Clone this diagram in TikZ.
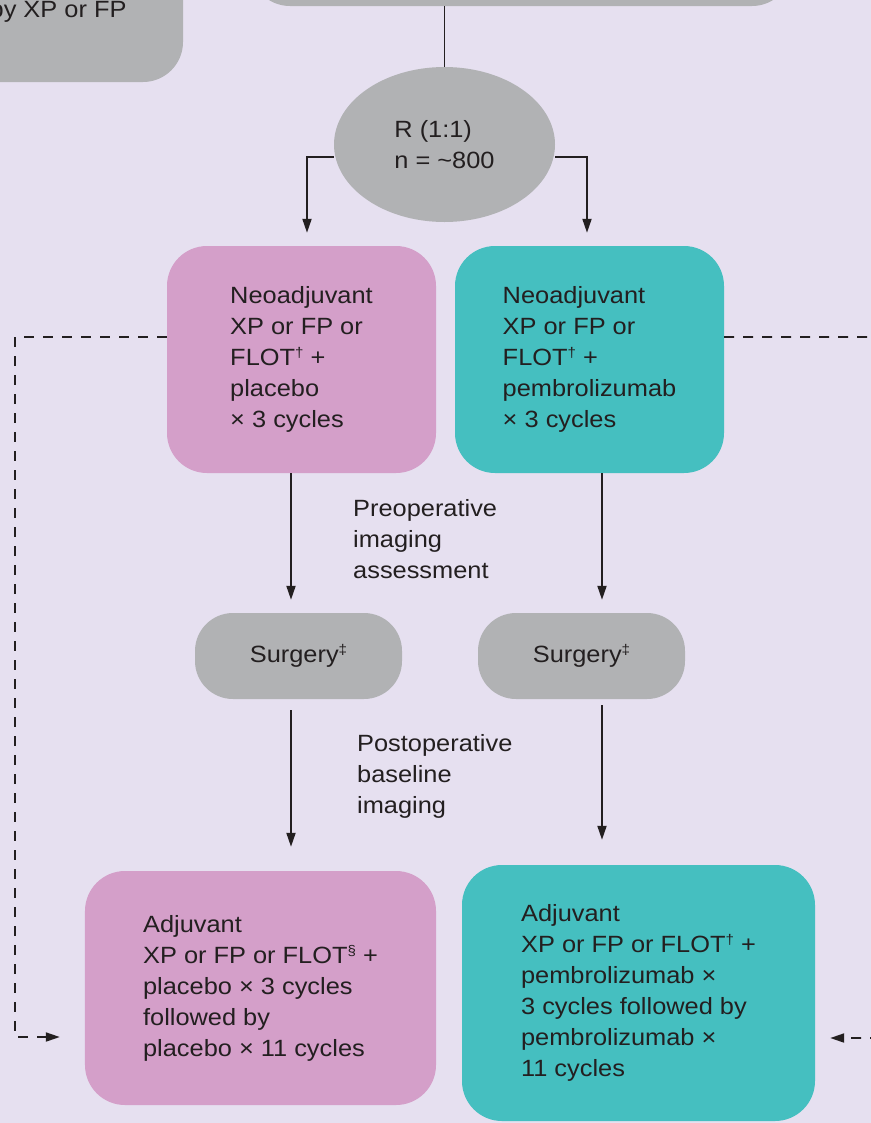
\documentclass[tikz,border=0pt]{standalone}
\usepackage{fontspec}
\setmainfont{Liberation Sans}[FakeStretch=1.08]
\usetikzlibrary{arrows.meta,positioning,calc,shapes.geometric}

\definecolor{bgcol}{HTML}{E6E0F0}
\definecolor{graybox}{HTML}{B1B2B4}
\definecolor{plabox}{HTML}{D49FC9}
\definecolor{pembox}{HTML}{45BFC0}
\definecolor{inkcol}{HTML}{231F20}

\newcommand{\fnmark}[1]{\raisebox{0.34em}{\fontsize{14bp}{14bp}\selectfont #1}}

\begin{document}
\begin{tikzpicture}[
    x=1bp, y=-1bp,
    every node/.style={align=left, text=inkcol, font=\fontsize{23.5bp}{31bp}\selectfont},
    armbox/.style={
        rectangle, rounded corners=40bp, inner sep=0pt
    },
    placebo/.style={armbox, fill=plabox},
    pembro/.style={armbox, fill=pembox},
    surg/.style={
        rectangle, rounded corners=38bp, fill=graybox,
        minimum width=207bp, minimum height=86bp
    },
    arrow/.style={-{Triangle[length=14bp,width=9bp]}, line width=1.9bp, draw=inkcol},
    dasharrow/.style={arrow, dash pattern=on 10bp off 9bp},
    note/.style={anchor=north west, inner sep=0pt}
]
\useasboundingbox (0,0) rectangle (871,1123);
\fill[bgcol] (0,0) rectangle (871,1123);
\clip (0,0) rectangle (871,1123);

% boxes above, cut off by the frame
\node[armbox, fill=graybox, minimum width=283bp, minimum height=182bp] (prior) at (41.5,-9) {};
\node[anchor=base east] (priortext) at (130,17) {by XP or FP};
\node[armbox, fill=graybox, minimum width=542bp, minimum height=120bp] (screen) at (521,-54) {};

% randomisation
\node[ellipse, fill=graybox, minimum width=221bp, minimum height=155bp, inner sep=0pt]
    (rand) at (444.5,144.5) {R (1:1)\\n = \textasciitilde800};

% neoadjuvant arms
\node[placebo, minimum width=269bp, minimum height=227bp] (neoplac) at (301.5,359.5)
    {Neoadjuvant\\XP or FP or\\FLOT\fnmark{†} +\\placebo\\× 3 cycles};
\node[pembro, minimum width=269bp, minimum height=227bp] (neopem) at (589.5,359.5)
    {Neoadjuvant\\XP or FP or\\FLOT\fnmark{†} +\\pembrolizumab\\× 3 cycles};

% surgery
\node[surg] (surgplac) at (298.5,656) {Surgery\fnmark{‡}};
\node[surg] (surgpem) at (581.5,656) {Surgery\fnmark{‡}};

% adjuvant arms
\node[placebo, minimum width=351bp, minimum height=234bp] (adjplac) at (260.5,988)
    {Adjuvant\\XP or FP or FLOT\fnmark{§} +\\placebo × 3 cycles\\followed by\\placebo × 11 cycles};
\node[pembro, minimum width=353bp, minimum height=256bp] (adjpem) at (638.5,993)
    {Adjuvant\\XP or FP or FLOT\fnmark{†} +\\pembrolizumab ×\\3 cycles followed by\\pembrolizumab ×\\11 cycles};

% step labels
\node[note] (preop) at (353,499) {Preoperative\\imaging\\assessment};
\node[note] (postop) at (357,734) {Postoperative\\baseline\\imaging};

% connectors
\draw[line width=1.9bp, draw=inkcol] (screen.south -| rand.north) -- (rand.north);
\draw[arrow, shorten >=13bp] ([yshift=-12.5bp]rand.west) -| ([xshift=5.5bp]neoplac.north);
\draw[arrow, shorten >=13bp] ([yshift=-12.5bp]rand.east) -| ([xshift=-2.5bp]neopem.north);
\draw[arrow, shorten >=13bp] ([xshift=-10.5bp]neoplac.south) -- ([xshift=-7.5bp]surgplac.north);
\draw[arrow, shorten >=13bp] ([xshift=12.5bp]neopem.south) -- ([xshift=20.5bp]surgpem.north);
\draw[arrow, shorten <=11bp, shorten >=24bp] ([xshift=-7.5bp]surgplac.south) -- ([xshift=30.5bp]adjplac.north);
\draw[arrow, shorten <=6bp, shorten >=25bp] ([xshift=20.5bp]surgpem.south) -- ([xshift=-36.5bp]adjpem.north);

% dashed cross-over lines
\coordinate (lcorner) at (15,700);
\coordinate (rtop) at (880,337);
\coordinate (rbot) at (880,1038);
\draw[dasharrow, shorten >=25bp] ([yshift=22.5bp]neoplac.west) -| (lcorner) |- ([yshift=-49bp]adjplac.west);
\draw[dasharrow, -] ([yshift=22.5bp]neopem.east) -- (rtop);
\draw[dasharrow, shorten >=15bp] (rbot) -- ([yshift=-45bp]adjpem.east);
\end{tikzpicture}
\end{document}
